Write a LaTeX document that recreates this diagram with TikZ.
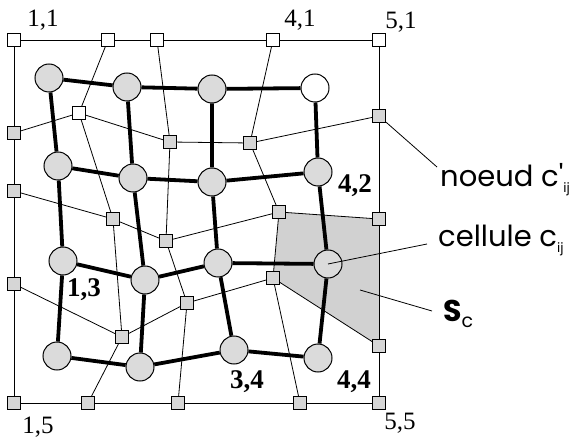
\documentclass[tikz,border=0pt]{standalone}
\usepackage{fontspec}
\setmainfont{Liberation Serif}
\newfontfamily\labfont{Poppins}
\usetikzlibrary{backgrounds}
\definecolor{cellfill}{gray}{0.86}
\definecolor{sqfill}{gray}{0.84}
\definecolor{regfill}{gray}{0.82}
\tikzset{
  sq/.style={draw, line width=0.9pt, fill=sqfill, minimum size=13pt, inner sep=0pt},
  sqw/.style={sq, fill=white},
  cell/.style={draw, circle, line width=1pt, fill=cellfill, minimum size=28pt, inner sep=0pt},
  thin/.style={line width=0.8pt},
  thick/.style={line width=3.8pt},
  num/.style={inner sep=0pt, font=\fontsize{25}{25}\selectfont},
  bnum/.style={inner sep=0pt, font=\fontsize{27}{27}\selectfont\bfseries},
  lab/.style={inner sep=0pt, anchor=base west, font=\fontsize{29}{29}\selectfont\labfont},
}
\newcommand{\subij}{\raisebox{-0.35ex}{\fontsize{13}{13}\selectfont ij}}
\begin{document}
\begin{tikzpicture}[x=1pt,y=-1pt]
\useasboundingbox (0,0) rectangle (575,443);
% squares (col,row)
\node[sqw] (s11) at (14,40) {};
\node[sqw] (s21) at (108,40) {};
\node[sqw] (s31) at (157,40) {};
\node[sqw] (s41) at (273,40) {};
\node[sqw] (s51) at (379,40) {};
\node[sq] (s12) at (14,133) {};
\node[sqw] (s22) at (79,113) {};
\node[sq] (s32) at (170,142) {};
\node[sq] (s42) at (250,143) {};
\node[sq] (s52) at (379,116) {};
\node[sq] (s13) at (14,191) {};
\node[sq] (s23) at (113,219) {};
\node[sq] (s33) at (166,241) {};
\node[sq] (s43) at (279,212) {};
\node[sq] (s53) at (379,219) {};
\node[sq] (s14) at (14,284) {};
\node[sq] (s24) at (122,337) {};
\node[sq] (s34) at (187,303) {};
\node[sq] (s44) at (273,278) {};
\node[sq] (s54) at (379,346) {};
\node[sq] (s15) at (14,403) {};
\node[sq] (s25) at (88,403) {};
\node[sq] (s35) at (178,403) {};
\node[sq] (s45) at (300,403) {};
\node[sq] (s55) at (379,403) {};
% cells
\node[cell] (c11) at (49,78) {};
\node[cell] (c21) at (127,87) {};
\node[cell] (c31) at (212,89) {};
\node[cell, fill=white] (c41) at (315,88) {};
\node[cell] (c12) at (58,166) {};
\node[cell] (c22) at (133,178) {};
\node[cell] (c32) at (212,182) {};
\node[cell] (c42) at (318,172) {};
\node[cell] (c13) at (63,261) {};
\node[cell] (c23) at (145,280) {};
\node[cell] (c33) at (218,263) {};
\node[cell] (c43) at (328,264) {};
\node[cell] (c14) at (57,356) {};
\node[cell] (c24) at (140,367) {};
\node[cell] (c34) at (234,350) {};
\node[cell] (c44) at (318,358) {};
% shaded region S_c
\begin{pgfonlayer}{background}
\fill[regfill] (s43.center) -- (s53.center) -- (s54.center) -- (s44.center) -- cycle;
\end{pgfonlayer}
% thin net: rows
\draw[thin] (s11) -- (s21) -- (s31) -- (s41) -- (s51);
\draw[thin] (s12) -- (s22) -- (s32) -- (s42) -- (s52);
\draw[thin] (s13) -- (s23) -- (s33) -- (s43) -- (s53);
\draw[thin] (s14) -- (s24) -- (s34) -- (s44) -- (s54);
\draw[thin] (s15) -- (s25) -- (s35) -- (s45) -- (s55);
% thin net: columns
\draw[thin] (s11) -- (s12) -- (s13) -- (s14) -- (s15);
\draw[thin] (s21) -- (s22) -- (s23) -- (s24) -- (s25);
\draw[thin] (s31) -- (s32) -- (s33) -- (s34) -- (s35);
\draw[thin] (s41) -- (s42) -- (s43) -- (s44) -- (s45);
\draw[thin] (s51) -- (s52) -- (s53) -- (s54) -- (s55);
% thick net: rows
\draw[thick] (c11) -- (c21) -- (c31) -- (c41);
\draw[thick] (c12) -- (c22) -- (c32) -- (c42);
\draw[thick] (c13) -- (c23) -- (c33) -- (c43);
\draw[thick] (c14) -- (c24) -- (c34) -- (c44);
% thick net: columns
\draw[thick] (c11) -- (c12) -- (c13) -- (c14);
\draw[thick] (c21) -- (c22) -- (c23) -- (c24);
\draw[thick] (c31) -- (c32) -- (c33) -- (c34);
\draw[thick] (c41) -- (c42) -- (c43) -- (c44);
% index labels
\node[num] (l11) at (43,20) {1,1};
\node[num] (l41) at (300,20) {4,1};
\node[num] (l51) at (401,22) {5,1};
\node[num] (l15) at (38,427) {1,5};
\node[num] (l55) at (400,423) {5,5};
\node[bnum] (l42) at (355,186) {4,2};
\node[bnum] (l13) at (84,290) {1,3};
\node[bnum] (l34) at (247,382) {3,4};
\node[bnum] (l44) at (354,382) {4,4};
% side labels
\node[lab] (tnoeud) at (440,187) {noeud c\char"27\subij};
\node[lab] (tcell) at (438,247) {cellule c\subij};
\node[lab, font=\fontsize{30}{30}\selectfont\labfont] (tsc) at (443,321) {\textbf{S}\raisebox{-0.4ex}{\fontsize{19}{19}\selectfont c}};
\coordinate (pn) at (437,167);
\coordinate (pc) at (427,244);
\coordinate (ps0) at (360,290);
\coordinate (ps1) at (432,311);
\draw[thin] (s52) -- (pn);
\draw[thin] (c43.center) -- (pc);
\draw[thin] (ps0) -- (ps1);
\end{tikzpicture}
\end{document}
